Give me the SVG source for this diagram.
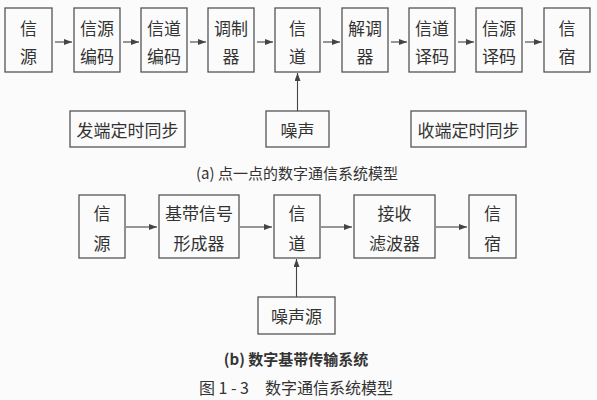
<svg xmlns="http://www.w3.org/2000/svg" width="597" height="400" viewBox="0 0 597 400">
<defs>
<marker id="ah" markerWidth="8" markerHeight="6" refX="8" refY="3" orient="auto" markerUnits="userSpaceOnUse">
<path d="M0,0 L8,3 L0,6 Z" fill="#444"/>
</marker>
<style>
.b{fill:none;stroke:#555;stroke-width:1.3}
.t{font-family:"Noto Sans CJK SC","Noto Sans CJK JP",sans-serif;fill:#333;font-size:17px;text-anchor:middle;dominant-baseline:central}
.c{stroke:#444;stroke-width:1.1;fill:none;marker-end:url(#ah)}
.cap{font-family:"Noto Sans CJK SC",sans-serif;fill:#333;dominant-baseline:central}
</style>
</defs>
<rect width="597" height="400" fill="#fbfbfb"/>
<g id="a-src"><rect class="b" x="5" y="8" width="47" height="64"/><text class="t" x="28.5" y="27">信</text><text class="t" x="28.5" y="55">源</text></g>
<g id="a-srcenc"><rect class="b" x="74" y="8" width="46" height="64"/><text class="t" x="97" y="27">信源</text><text class="t" x="97" y="55">编码</text></g>
<g id="a-chenc"><rect class="b" x="141" y="8" width="46" height="64"/><text class="t" x="164" y="27">信道</text><text class="t" x="164" y="55">编码</text></g>
<g id="a-mod"><rect class="b" x="208" y="8" width="46" height="64"/><text class="t" x="231" y="27">调制</text><text class="t" x="231" y="55">器</text></g>
<g id="a-ch"><rect class="b" x="275" y="8" width="45" height="64"/><text class="t" x="297.5" y="27">信</text><text class="t" x="297.5" y="55">道</text></g>
<g id="a-demod"><rect class="b" x="342" y="8" width="46" height="64"/><text class="t" x="365" y="27">解调</text><text class="t" x="365" y="55">器</text></g>
<g id="a-chdec"><rect class="b" x="409" y="8" width="46" height="64"/><text class="t" x="432" y="27">信道</text><text class="t" x="432" y="55">译码</text></g>
<g id="a-srcdec"><rect class="b" x="476" y="8" width="46" height="64"/><text class="t" x="499" y="27">信源</text><text class="t" x="499" y="55">译码</text></g>
<g id="a-sink"><rect class="b" x="544" y="8" width="46" height="64"/><text class="t" x="567" y="27">信</text><text class="t" x="567" y="55">宿</text></g>
<g id="a-txsync"><rect class="b" x="70" y="111" width="115" height="36"/><text class="t" x="127.5" y="129">发端定时同步</text></g>
<g id="a-noise"><rect class="b" x="266" y="111" width="63" height="36"/><text class="t" x="297.5" y="129">噪声</text></g>
<g id="a-rxsync"><rect class="b" x="411" y="111" width="115" height="36"/><text class="t" x="468.5" y="129">收端定时同步</text></g>
<g id="b-src"><rect class="b" x="79" y="195" width="46" height="63"/><text class="t" x="102" y="212">信</text><text class="t" x="102" y="242">源</text></g>
<g id="b-shaper"><rect class="b" x="159" y="195" width="80" height="63"/><text class="t" x="199" y="212">基带信号</text><text class="t" x="199" y="242">形成器</text></g>
<g id="b-ch"><rect class="b" x="274" y="195" width="46" height="63"/><text class="t" x="297" y="212">信</text><text class="t" x="297" y="242">道</text></g>
<g id="b-rxf"><rect class="b" x="354" y="195" width="81" height="63"/><text class="t" x="394.5" y="212">接收</text><text class="t" x="394.5" y="242">滤波器</text></g>
<g id="b-sink"><rect class="b" x="469" y="195" width="47" height="63"/><text class="t" x="492.5" y="212">信</text><text class="t" x="492.5" y="242">宿</text></g>
<g id="b-noise"><rect class="b" x="258" y="297" width="77" height="37"/><text class="t" x="296.5" y="315.5">噪声源</text></g>
<g id="connectors">
<path class="c" d="M55,42 H72"/>
<path class="c" d="M123,42 H139"/>
<path class="c" d="M190,42 H206"/>
<path class="c" d="M257,42 H273"/>
<path class="c" d="M323,42 H340"/>
<path class="c" d="M391,42 H407"/>
<path class="c" d="M458,42 H474"/>
<path class="c" d="M525,42 H542"/>
<path class="c" d="M297.5,111 V73"/>
<path class="c" d="M126,227 H157"/>
<path class="c" d="M240,227 H272"/>
<path class="c" d="M321,227 H352"/>
<path class="c" d="M436,227 H467"/>
<path class="c" d="M296.5,297 V259"/>
</g>
<text class="cap" x="297" y="172" font-size="15" text-anchor="middle">(a) 点一点的数字通信系统模型</text>
<text class="cap" x="296" y="358" font-size="15" font-weight="bold" text-anchor="middle">(b) 数字基带传输系统</text>
<text class="cap" x="249" y="387" font-size="16" text-anchor="end">图 1 - 3</text>
<text class="cap" x="265" y="387" font-size="16" text-anchor="start">数字通信系统模型</text>
</svg>
